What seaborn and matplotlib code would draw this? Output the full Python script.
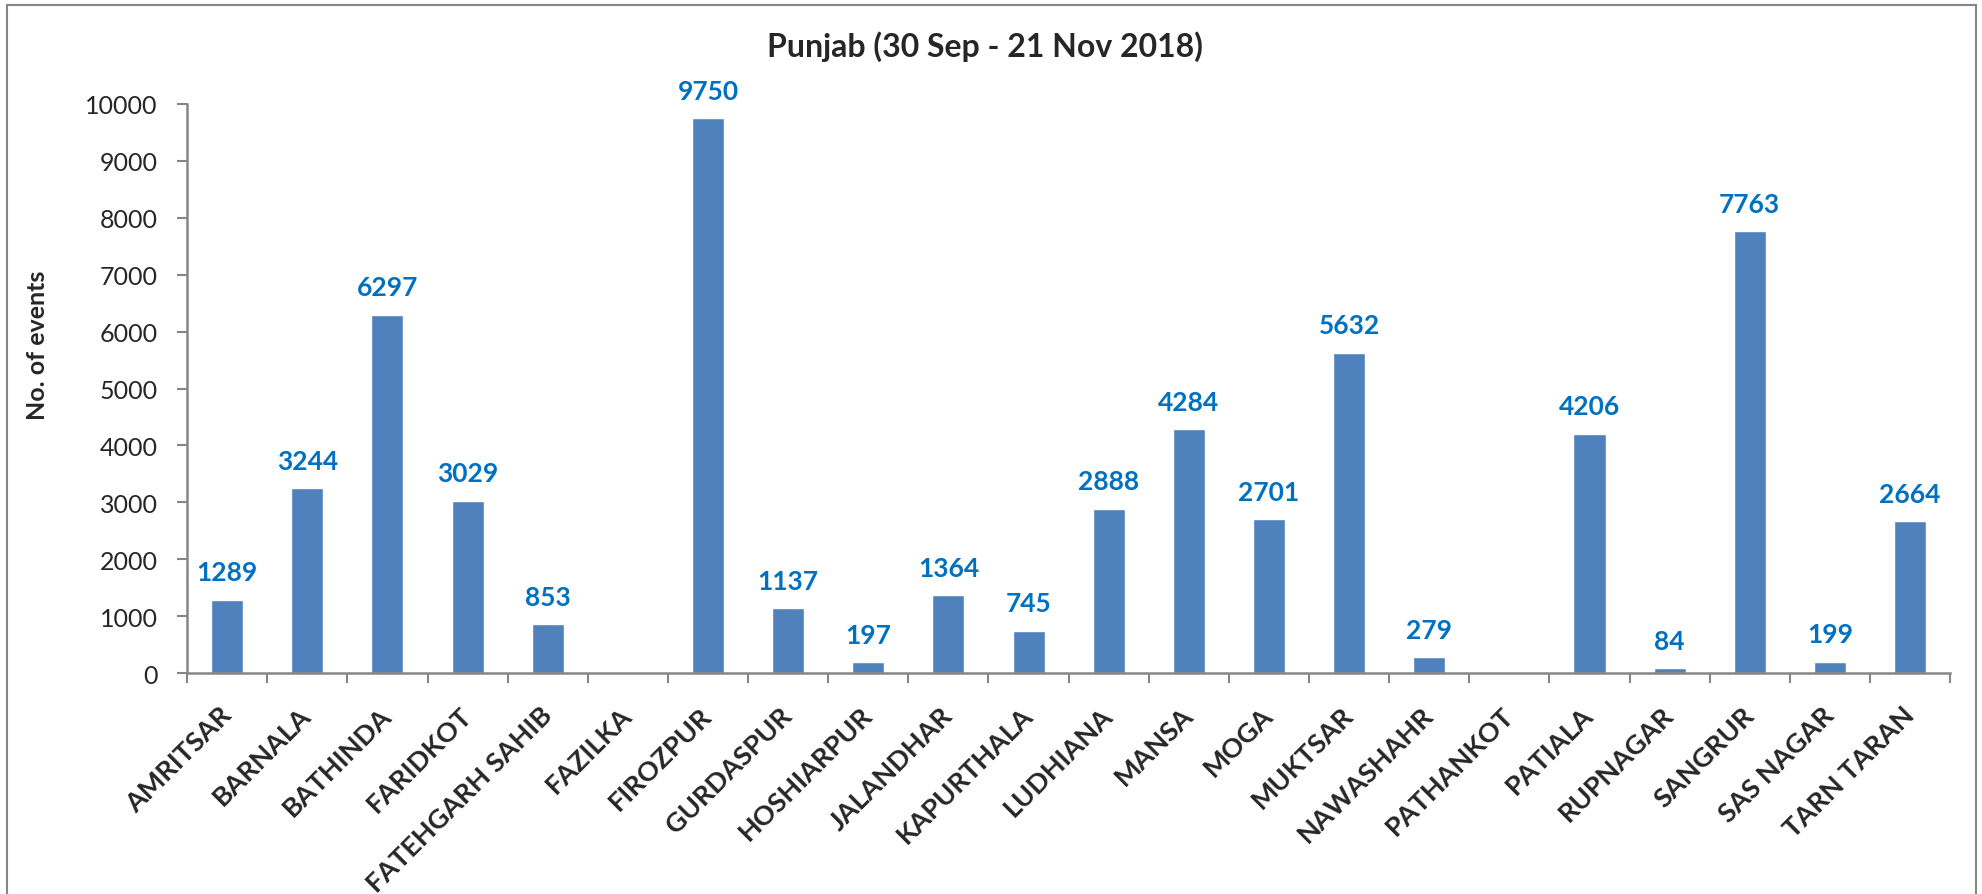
"""
Punjab stubble-burning events per district (30 Sep - 21 Nov 2018).
"""

import numpy as np
import pandas as pd
import matplotlib
matplotlib.use('Agg')
import matplotlib.pyplot as plt
from matplotlib.patches import Rectangle
import seaborn as sns

# District names along the x axis
districts = [
    'AMRITSAR', 'BARNALA', 'BATHINDA', 'FARIDKOT', 'FATEHGARH SAHIB',
    'FAZILKA', 'FIROZPUR', 'GURDASPUR', 'HOSHIARPUR', 'JALANDHAR',
    'KAPURTHALA', 'LUDHIANA', 'MANSA', 'MOGA', 'MUKTSAR', 'NAWASHAHR',
    'PATHANKOT', 'PATIALA', 'RUPNAGAR', 'SANGRUR', 'SAS NAGAR', 'TARN TARAN',
]

# Number of events per district
events = [
    1289, 3244, 6297, 3029, 853,
    0, 9750, 1137, 197, 1364,
    745, 2888, 4284, 2701, 5632, 279,
    0, 4206, 84, 7763, 199, 2664,
]

y_ticks = list(range(0, 10001, 1000))

title = 'Punjab (30 Sep - 21 Nov 2018)'
y_label = 'No. of events'

BAR_COLOR = '#4F81BD'
LABEL_COLOR = '#0070C0'
AXIS_COLOR = '#868686'

sns.set_style('white')
plt.rcParams['font.family'] = ['Lato', 'DejaVu Sans']

df = pd.DataFrame({'district': districts, 'events': events})

fig = plt.figure(figsize=(19.82, 8.95), dpi=100)
ax = fig.add_axes([0.0944, 0.2469, 0.8895, 0.6358])

sns.barplot(data=df, x='district', y='events', color=BAR_COLOR,
            width=0.4, saturation=1, ax=ax)

# Value labels (none for empty districts)
labels = [str(v) if v > 0 else '' for v in events]
ax.bar_label(ax.containers[0], labels=labels, padding=11,
             color=LABEL_COLOR, fontsize=19, fontweight='bold')

ax.set_ylim(0, 10000)
ax.set_yticks(y_ticks)
ax.set_xlim(-0.5, len(districts) - 0.5)

ax.tick_params(axis='y', labelsize=18, length=7, width=1.5,
               color=AXIS_COLOR, direction='out', left=True, pad=14)
ax.tick_params(axis='x', which='major', length=0, pad=27)
ax.set_xticks(np.arange(-0.5, len(districts)), minor=True)
ax.tick_params(axis='x', which='minor', length=7, width=1.5,
               color=AXIS_COLOR, direction='out', bottom=True)
ax.set_xticks(range(len(districts)))
ax.set_xticklabels(districts, rotation=45, ha='right', va='center',
                   rotation_mode='anchor', fontsize=19.5, fontweight='bold')

for side in ['top', 'right']:
    ax.spines[side].set_visible(False)
for side in ['left', 'bottom']:
    ax.spines[side].set_color(AXIS_COLOR)
    ax.spines[side].set_linewidth(1.8)

ax.set_xlabel('')
ax.set_ylabel('')
ax.grid(False)

fig.text(0.497, 0.9475, title, ha='center', va='center',
         fontsize=23, fontweight='bold')
fig.text(0.019, 0.614, y_label, ha='center', va='center', rotation=90,
         fontsize=18, fontweight='bold')

# Outer chart frame
fig.patches.append(Rectangle((0.0035, -0.05), 0.9935, 1.043,
                             transform=fig.transFigure, fill=False,
                             edgecolor=AXIS_COLOR, linewidth=1.5))

fig.savefig('out.png', dpi=100)
